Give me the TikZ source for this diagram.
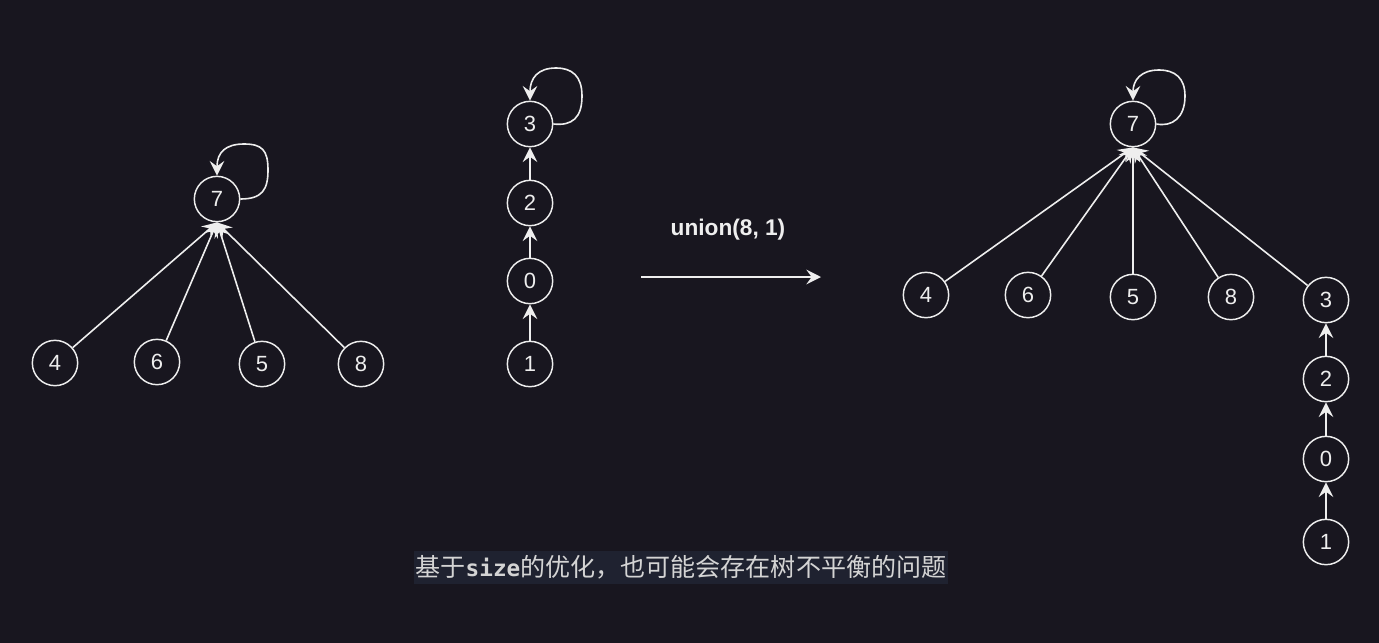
\documentclass[tikz,border=0pt]{standalone}
\usepackage{fontspec}
\setmainfont{Liberation Sans}
\newfontfamily\cjk{Noto Sans CJK SC}
\newfontfamily\monob{DejaVu Sans Mono}
\usetikzlibrary{arrows.meta}
\definecolor{bg}{HTML}{18161F}
\definecolor{capbg}{HTML}{1F2230}
\definecolor{fg}{HTML}{EEEEEE}
\definecolor{capfg}{HTML}{D4D4D4}
\tikzset{
  vnode/.style={circle,draw=fg,line width=1.1pt,minimum size=34pt,inner sep=0pt,text=fg,font=\fontsize{16.5}{19}\selectfont},
  edge/.style={draw=fg,line width=1.2pt,-{Stealth[length=11pt,width=11pt,inset=4pt]}},
}
\begin{document}
\begin{tikzpicture}[x=0.75pt,y=-0.75pt]
\fill[bg] (0,0) rectangle (1379,643);
\useasboundingbox (0,0) rectangle (1379,643);
% left tree
\node[vnode] (l7) at (217,199) {7};
\node[vnode] (l4) at (55,363) {4};
\node[vnode] (l6) at (157,362) {6};
\node[vnode] (l5) at (262,364) {5};
\node[vnode] (l8) at (361,364) {8};
\foreach \n in {l4,l6,l5,l8} \draw[edge] (\n) -- (l7.south);
\draw[edge] (l7.east) .. controls (262,199) and (268,190) .. (268,170) .. controls (268,150) and (262,144) .. (244,144) .. controls (226,144) and (217,152) .. (l7.north);
% middle chain
\node[vnode] (m3) at (530,124) {3};
\node[vnode] (m2) at (530,203) {2};
\node[vnode] (m0) at (530,281) {0};
\node[vnode] (m1) at (530,364) {1};
\draw[edge] (m1) -- (m0);
\draw[edge] (m0) -- (m2);
\draw[edge] (m2) -- (m3);
\draw[edge] (m3.east) .. controls (572,126) and (582,118) .. (582,96) .. controls (582,76) and (572,68) .. (556,68) .. controls (538,68) and (530,78) .. (m3.north);
% union arrow
\coordinate (ua) at (641,277);
\coordinate (ub) at (821,277);
\draw[edge] (ua) -- (ub);
\node[text=fg,font=\bfseries\fontsize{17}{20}\selectfont] (ul) at (728,230) {union(8, 1)};
% right tree
\node[vnode] (r7) at (1133,124) {7};
\node[vnode] (r4) at (926,295) {4};
\node[vnode] (r6) at (1028,295) {6};
\node[vnode] (r5) at (1133,297) {5};
\node[vnode] (r8) at (1231,297) {8};
\node[vnode] (r3) at (1326,300) {3};
\node[vnode] (r2) at (1326,379) {2};
\node[vnode] (r0) at (1326,459) {0};
\node[vnode] (r1) at (1326,542) {1};
\foreach \n in {r4,r6,r5,r8,r3} \draw[edge] (\n) -- (r7.south);
\draw[edge] (r1) -- (r0);
\draw[edge] (r0) -- (r2);
\draw[edge] (r2) -- (r3);
\draw[edge] (r7.east) .. controls (1172,127) and (1185,118) .. (1185,96) .. controls (1185,78) and (1175,70) .. (1159,70) .. controls (1141,70) and (1133,80) .. (r7.north);
% caption
\node[fill=capbg,minimum width=400.5pt,minimum height=24.75pt,inner sep=0pt,text=capfg,font=\cjk\fontsize{18.8}{22}\selectfont] (cap) at (681,567.5) {基于{\monob\bfseries\fontsize{17}{20}\selectfont size}的优化，也可能会存在树不平衡的问题};
\end{tikzpicture}
\end{document}
